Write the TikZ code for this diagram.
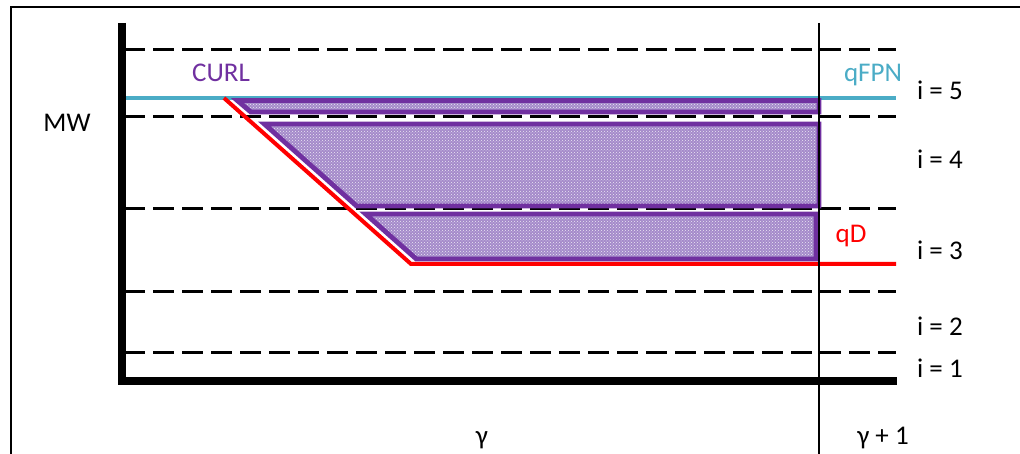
\documentclass[tikz,border=0pt]{standalone}
\usepackage{fontspec}
\usetikzlibrary{patterns}
\setmainfont{Carlito}
\definecolor{bandpurple}{HTML}{7030A0}
\definecolor{bandfill}{HTML}{A48ACA}
\definecolor{fpncyan}{HTML}{4BACC6}
\definecolor{dred}{HTML}{FF0000}
\begin{document}
\begin{tikzpicture}[x=1pt,y=-1pt,
  lbl/.style={font=\fontsize{27}{30}\selectfont, inner sep=0pt, anchor=base},
  ilbl/.style={lbl, anchor=base west},
  levelline/.style={line width=3pt, dash pattern=on 21pt off 8pt},
  axisline/.style={line width=8pt},
  band/.style={draw=bandpurple, line width=4.8pt, line join=miter,
    preaction={fill=bandfill},
    preaction={pattern=crosshatch dots, pattern color=white!80!bandfill}},
  qline/.style={line width=4pt},
  thinline/.style={line width=2pt}]
\useasboundingbox (0,0) rectangle (1020,454);
% outer frame
\draw[thinline] (11,470) -- (11,7) -- (1030,7);
% level lines
\foreach \yy/\nm in {50/a,117/b,209/c,292/d,352/e}{
  \coordinate (L\nm) at (124,\yy);
  \coordinate (R\nm) at (896,\yy);
  \draw[levelline] (L\nm) -- (R\nm);
}
% qFPN and qD
\coordinate (fpnL) at (124,98);
\coordinate (fpnR) at (896,98);
\coordinate (kink1) at (224,98);
\coordinate (kink2) at (411,264);
\coordinate (qdR) at (896,264);
\draw[qline, fpncyan] (fpnL) -- (fpnR);
\draw[qline, dred, line join=miter] (kink1) -- (kink2) -- (qdR);
% bands
\draw[band] (237.3,100.5) -- (819,100.5) -- (819,112) -- (250.8,112) -- cycle;
\draw[band] (264.3,124) -- (819,124) -- (819,206) -- (356.6,206) -- cycle;
\draw[band] (365.6,214) -- (816,214) -- (816,259) -- (416.3,259) -- cycle;
% year boundary
\coordinate (vt) at (819,23);
\coordinate (vb) at (819,460);
\draw[thinline] (vt) -- (vb);
% axes
\coordinate (ytop) at (122,23);
\coordinate (origin) at (122,381);
\coordinate (xend) at (897,381);
\draw[axisline] (ytop) -- (122,385);
\draw[axisline] (118,381) -- (xend);
% labels
\node[lbl] (mw) at (67,132) {MW};
\node[lbl, text=bandpurple] (curl) at (221,82) {CURL};
\node[lbl, text=fpncyan] (qfpn) at (873,82) {qFPN};
\node[lbl, text=dred] (qd) at (851,243) {qD};
\node[ilbl] (i5) at (917,100) {i = 5};
\node[ilbl] (i4) at (917,169) {i = 4};
\node[ilbl] (i3) at (917,260) {i = 3};
\node[ilbl] (i2) at (917,335) {i = 2};
\node[ilbl] (i1) at (917,377) {i = 1};
\node[lbl] (g) at (482,444) {γ};
\node[lbl] (g1) at (883,444) {γ + 1};
\end{tikzpicture}
\end{document}
